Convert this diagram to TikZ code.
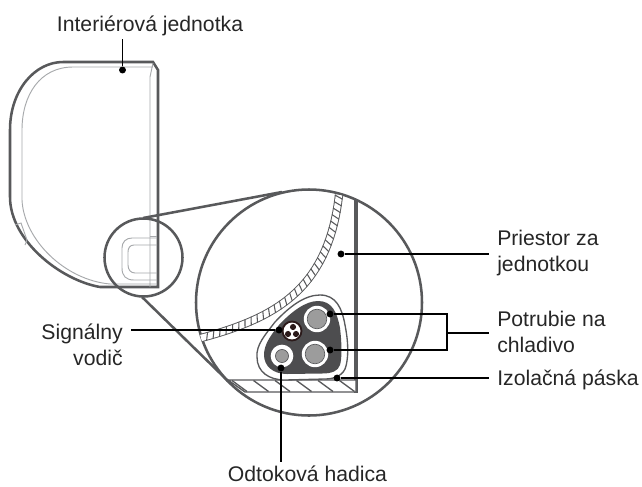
\documentclass[tikz,border=0pt]{standalone}
\usepackage{fontspec}
\setmainfont{Liberation Sans}
\usetikzlibrary{decorations.markings, positioning, calc}
\definecolor{outline}{HTML}{58595B}
\definecolor{faint}{HTML}{A7A9AC}
\definecolor{pipefill}{HTML}{9C9C9C}
\definecolor{blobfill}{HTML}{4D4D4F}
\definecolor{wirefill}{HTML}{2B1A1A}

\begin{document}
\begin{tikzpicture}[
    x=0.75pt, y=-0.75pt,
    labelnode/.style={font=\fontsize{15.9pt}{19.5pt}\selectfont, inner xsep=6pt, inner ysep=2.5pt, text=black!85},
    dotnode/.style={circle, fill=black, inner sep=0pt, minimum size=5.2pt},
    heavy/.style={draw=outline, line width=1.9pt},
    thin line/.style={draw=faint, line width=0.7pt},
    leader/.style={draw=black, line width=1.2pt},
    hatchband/.style={postaction={decorate, decoration={markings,
        mark=between positions 0.01 and 0.99 step 5pt with {\draw[outline, line width=0.8pt] (-1.2pt,-3pt) -- (1.2pt,3pt);}}}}
]
    \useasboundingbox (0,0) rectangle (642,486);

    \draw[heavy, fill=white] (63,62) -- (153,62) -- (158,70) -- (158,287) -- (100,287)
        .. controls (60,280) and (10,240) .. (10,197) -- (10,130)
        .. controls (10,90) and (35,62) .. (63,62) -- cycle;
    \draw[thin line] (73,67) -- (153,67) (153,63) -- (150,77) -- (150,287)
        (73,67) .. controls (40,67) and (22,95) .. (22,130) -- (22,200)
        .. controls (24,240) and (65,280) .. (110,284) -- (157,284);
    \draw[thin line] (157,238) -- (132,238) .. controls (126,238) and (122,242) .. (122,248) -- (122,268)
        .. controls (122,276) and (126,280) .. (134,280) -- (157,280);
    \draw[thin line] (157,245) -- (134,245) .. controls (130,245) and (128,248) .. (128,252) -- (128,265)
        .. controls (128,270) and (131,273) .. (135,273) -- (157,273);
    \draw[thin line] (150,236) -- (157,236);
    \draw[thin line] (15,225) -- (21,223) -- (27,240) -- (25,245);

    \node[circle, heavy, minimum size=58.5pt, inner sep=0pt] (lenscircle) at (143.5,257.5) {};
    \node[circle, heavy, fill=white, minimum size=169.5pt, inner sep=0pt] (bigcircle) at (309,302.5) {};
    \draw[heavy] (143,218) -- (282,192);
    \draw[heavy] (142,297) -- (228,381);

    \draw[draw=outline, line width=3.1pt] (356,199) -- (356,393);
    \draw[draw=outline, line width=1pt, fill=white] (228,380) -- (356,380) -- (356,392) -- (245,392) -- cycle;
    \foreach \hx in {232,253.5,...,340} {
        \draw[outline, line width=1pt] (\hx,380.5) -- (\hx+15,391.5);
    }

    \draw[draw=outline, line width=6.2pt] (339,195) .. controls (328,290) and (275,318) .. (201,338);
    \draw[draw=white, line width=4.8pt, hatchband] (339,195) .. controls (328,290) and (275,318) .. (201,338);

    \draw[draw=outline, line width=1pt, fill=white] (320,295)
        .. controls (336,295) and (342,308) .. (345,325)
        .. controls (349,345) and (348,358) .. (346,366)
        .. controls (344,375) and (335,379) .. (325,379) -- (285,380)
        .. controls (269,380) and (257,372) .. (257,357)
        .. controls (256,345) and (265,335) .. (275,322)
        .. controls (290,306) and (305,295) .. (320,295) -- cycle;
    \fill[blobfill] (318,301)
        .. controls (332,301) and (337,312) .. (340,328)
        .. controls (342,345) and (342,358) .. (340,365)
        .. controls (338,371) and (332,373.5) .. (322,373.5) -- (287,374)
        .. controls (273,374) and (264,366) .. (264,355)
        .. controls (264,345) and (270,336) .. (279,325)
        .. controls (292,311) and (306,301) .. (318,301) -- cycle;

    \node[circle, fill=white, minimum size=19.8pt, inner sep=0pt] at (317,319) {};
    \node[circle, fill=pipefill, draw=outline, line width=0.5pt, minimum size=14.7pt, inner sep=0pt] (pipeupper) at (317,319) {};
    \node[circle, fill=white, minimum size=19.8pt, inner sep=0pt] at (315,354) {};
    \node[circle, fill=pipefill, draw=outline, line width=0.5pt, minimum size=14.7pt, inner sep=0pt] (pipelower) at (315,354) {};
    \node[circle, fill=white, minimum size=17pt, inner sep=0pt] at (282,356) {};
    \node[circle, fill=pipefill, draw=outline, line width=0.5pt, minimum size=9.8pt, inner sep=0pt] (drainhose) at (282,356) {};
    \node[circle, fill=wirefill, minimum size=15.6pt, inner sep=0pt] at (292,331) {};
    \node[circle, fill=white, minimum size=12.6pt, inner sep=0pt] (signalwire) at (292,331) {};
    \foreach \wx/\wy in {293/327, 288/334, 296/334} {
        \fill[wirefill] (\wx,\wy) circle (2.3pt);
    }

    \node[labelnode, anchor=base] (unitlabel) at (150,31) {Interiérová jednotka};
    \node[labelnode, anchor=west, align=left] (spacelabel) at (489,253.5) {Priestor za\\jednotkou};
    \node[labelnode, anchor=west, align=left] (pipelabel) at (489,332) {Potrubie na\\chladivo};
    \node[labelnode, anchor=west] (tapelabel) at (489,380) {Izolačná páska};
    \node[labelnode, anchor=east, align=right] (wirelabel) at (131,345) {Signálny\\vodič};
    \node[labelnode, anchor=base] (drainlabel) at (307.5,481) {Odtoková hadica};

    \node[dotnode] (unitdot) at (122.5,70) {};
    \node[dotnode] (spacedot) at (341,254) {};
    \node[dotnode] (pipedota) at (330,314) {};
    \node[dotnode] (pipedotb) at (330,350) {};
    \node[dotnode] (tapedot) at (337,378) {};
    \node[dotnode] (wiredot) at (279,330) {};
    \node[dotnode] (draindot) at (281,368) {};
    \coordinate (pipejoin) at (447,333);

    \draw[leader] (unitdot) -- (unitdot |- unitlabel.south);
    \draw[leader] (spacedot) -- (spacedot -| spacelabel.west);
    \draw[leader] (pipedota) -| (pipejoin);
    \draw[leader] (pipedotb) -| (pipejoin);
    \draw[leader] (pipejoin) -- (pipejoin -| pipelabel.west);
    \draw[leader] (tapedot) -- (tapedot -| tapelabel.west);
    \draw[leader] (wiredot) -- (wiredot -| wirelabel.east);
    \draw[leader] (draindot) -- (draindot |- drainlabel.north);
\end{tikzpicture}
\end{document}
